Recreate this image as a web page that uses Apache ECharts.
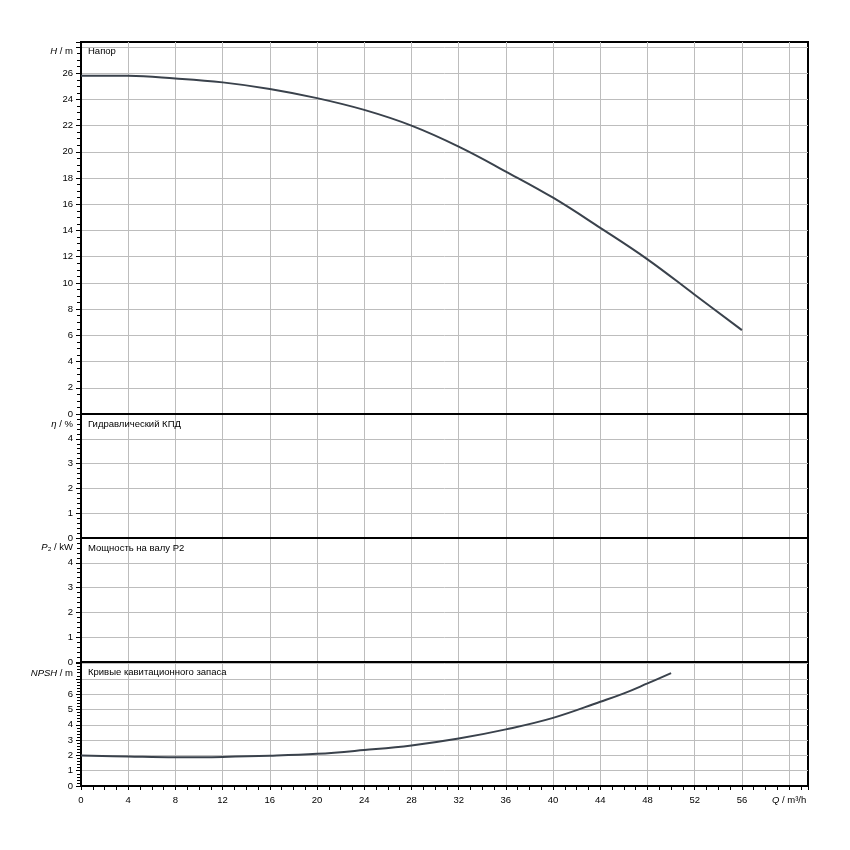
<!DOCTYPE html>
<html>
<head>
<meta charset="utf-8">
<script src="https://cdn.jsdelivr.net/npm/echarts@6/dist/echarts.min.js"></script>
<style>
html,body{margin:0;padding:0;background:#fff;}
#c{width:850px;height:850px;}
</style>
</head>
<body>
<div id="c"></div>
<script>
// ---- data ----
const qHead = [0, 2, 4, 8, 12, 16, 20, 24, 28, 32, 36, 40, 44, 48, 52, 56];
const headH = [25.8, 25.8, 25.8, 25.6, 25.3, 24.8, 24.1, 23.2, 22.0, 20.4, 18.5, 16.5, 14.2, 11.8, 9.1, 6.4];
const qNpsh = [0, 4, 8, 12, 16, 20, 24, 28, 32, 36, 40, 44, 46, 48, 50];
const npshM = [2.0, 1.93, 1.88, 1.9, 1.97, 2.1, 2.35, 2.65, 3.1, 3.7, 4.45, 5.5, 6.05, 6.7, 7.37];
const panelTitles = ['Напор', 'Гидравлический КПД', 'Мощность на валу P2', 'Кривые кавитационного запаса'];
const xMax = 61.6;
const xTickStep = 4;
const xNameTick = 60;

const FONT = '"Liberation Sans", Arial, sans-serif';
const FS = 9.5;
const GRIDC = '#bdbdbd';
const CURVE = '#3a424c';

const panels = [
  {top: 42, height: 372, max: 28.38, step: 2, lastLabel: 26, minor: 4, nameRich: '{i|H} / m', nameGap: -9, titleTop: 46},
  {top: 414, height: 124, max: 5, step: 1, lastLabel: 4, minor: 5, nameRich: '{i|η} / %', nameGap: -10, titleTop: 419},
  {top: 538, height: 124, max: 5, step: 1, lastLabel: 4, minor: 5, nameRich: '{i|P}₂ / kW', nameGap: -9, titleTop: 543},
  {top: 662, height: 124, max: 8.1, step: 1, lastLabel: 6, minor: 5, nameRich: '{i|NPSH} / m', nameGap: -11, titleTop: 667}
];

const grids = [], xAxes = [], yAxes = [], titles = [];
panels.forEach((p, i) => {
  const isBottom = i === panels.length - 1;
  grids.push({left: 81, right: 42, top: p.top, height: p.height, show: true,
    borderColor: '#000', borderWidth: 2, backgroundColor: 'transparent', containLabel: false});
  xAxes.push({
    type: 'value', gridIndex: i, min: 0, max: xMax, interval: xTickStep,
    axisLine: {show: true, onZero: false, lineStyle: {color: '#000', width: 2}},
    axisTick: {show: isBottom, length: 4, lineStyle: {color: '#000'}},
    minorTick: {show: isBottom, splitNumber: 4, length: 4, lineStyle: {color: '#000'}},
    minorSplitLine: {show: false},
    axisLabel: {show: isBottom, margin: 9, color: '#000', fontFamily: FONT, fontSize: FS,
      showMaxLabel: false,
      formatter: v => v === xNameTick ? '{i|Q} / m³/h' : (v > xNameTick ? '' : String(v)),
      rich: {i: {fontStyle: 'italic', fontFamily: FONT, fontSize: FS, color: '#000'}}},
    splitLine: {show: true, showMinLine: false, showMaxLine: false, lineStyle: {color: GRIDC, width: 1}}
  });
  yAxes.push({
    type: 'value', gridIndex: i, min: 0, max: p.max, interval: p.step,
    name: p.nameRich, nameLocation: 'end', nameGap: p.nameGap,
    nameTextStyle: {align: 'right', verticalAlign: 'middle', padding: [0, 8, 0, 0], color: '#000',
      fontFamily: FONT, fontSize: FS,
      rich: {i: {fontStyle: 'italic', fontFamily: FONT, fontSize: FS, color: '#000'}}},
    axisLine: {show: true, onZero: false, lineStyle: {color: '#000', width: 2}},
    axisTick: {show: true, length: 5, lineStyle: {color: '#000'}},
    minorTick: {show: true, splitNumber: p.minor, length: 4, lineStyle: {color: '#000'}},
    minorSplitLine: {show: false},
    axisLabel: {margin: 8, color: '#000', fontFamily: FONT, fontSize: FS, showMaxLabel: false,
      formatter: v => (v <= p.lastLabel && Math.abs(v - Math.round(v)) < 1e-9) ? String(v) : ''},
    splitLine: {show: true, showMinLine: false, showMaxLine: false, lineStyle: {color: GRIDC, width: 1}}
  });
  titles.push({text: panelTitles[i], left: 88, top: p.titleTop, padding: 0,
    textStyle: {fontFamily: FONT, fontSize: FS, fontWeight: 'normal', color: '#000'}});
});

const chart = echarts.init(document.getElementById('c'), null, {renderer: 'canvas'});
chart.setOption({
  animation: false,
  backgroundColor: '#fff',
  title: titles,
  grid: grids,
  xAxis: xAxes,
  yAxis: yAxes,
  series: [
    {type: 'line', xAxisIndex: 0, yAxisIndex: 0, showSymbol: false, smooth: 0.4,
      lineStyle: {color: CURVE, width: 2}, data: qHead.map((q, k) => [q, headH[k]])},
    {type: 'line', xAxisIndex: 3, yAxisIndex: 3, showSymbol: false, smooth: 0.4,
      lineStyle: {color: CURVE, width: 2}, data: qNpsh.map((q, k) => [q, npshM[k]])}
  ]
});
</script>
</body>
</html>
